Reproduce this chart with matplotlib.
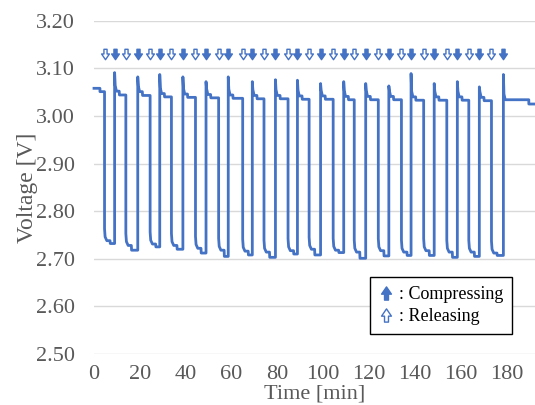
import numpy as np
import matplotlib
matplotlib.use("Agg")
import matplotlib.pyplot as plt
from matplotlib.path import Path
from matplotlib.lines import Line2D

plt.rcParams['font.family'] = ['Liberation Serif', 'DejaVu Serif']

# ---- data ----
start_t = [0.0, 2.6]            # initial plateau, step time
start_v = [3.058, 3.051]
drop_t = [4.6, 13.9, 24.5, 33.8, 44.3, 54.4, 64.9, 74.2, 84.7,
          93.9, 104.4, 113.6, 124.1, 134.2, 143.9, 154.0, 163.6, 173.5]
rise_t = [9.0, 19.1, 28.7, 38.8, 48.9, 58.6, 69.1, 79.2, 88.8,
          98.9, 109.0, 118.6, 128.7, 138.4, 148.5, 158.6, 168.2, 178.7]
spike_v = [3.091, 3.082, 3.087, 3.082, 3.072, 3.082, 3.072, 3.076, 3.075,
           3.068, 3.072, 3.068, 3.063, 3.089, 3.068, 3.072, 3.061, 3.087]
hi1_v = [3.052, 3.051, 3.047, 3.046, 3.045, 3.044, 3.043, 3.043, 3.042,
         3.042, 3.041, 3.041, 3.041, 3.040, 3.040, 3.040, 3.039, 3.034]
hi2_v = [3.044, 3.043, 3.040, 3.039, 3.038, 3.037, 3.036, 3.036, 3.035,
         3.035, 3.034, 3.034, 3.034, 3.033, 3.033, 3.033, 3.032, 3.025]
lo1_v = [2.738, 2.728, 2.731, 2.728, 2.722, 2.718, 2.716, 2.714, 2.717,
         2.720, 2.718, 2.714, 2.717, 2.714, 2.717, 2.714, 2.714, 2.712]
lo2_v = [2.732, 2.718, 2.725, 2.720, 2.712, 2.705, 2.708, 2.703, 2.710,
         2.708, 2.713, 2.701, 2.706, 2.707, 2.707, 2.703, 2.705, 2.707]
end_t = [189.8, 193.5]
x_ticks = [0, 20, 40, 60, 80, 100, 120, 140, 160, 180]
y_ticks = [2.50, 2.60, 2.70, 2.80, 2.90, 3.00, 3.10, 3.20]
arrow_v = 3.130

# ---- build the trace from the read values ----
t = [start_t[0], start_t[1], start_t[1]]
v = [start_v[0], start_v[0], start_v[1]]
prev_hi = start_v[1]
n = len(drop_t)
for k in range(n):
    d, r = drop_t[k], rise_t[k]
    # low phase
    t += [d, d, d + 0.25, d + 1.0, d + 2.4, d + 2.5, r]
    v += [prev_hi, lo1_v[k] + 0.025, lo1_v[k] + 0.008, lo1_v[k], lo1_v[k], lo2_v[k], lo2_v[k]]
    # high phase
    last = (k + 1 == n)
    nxt = end_t[0] if last else drop_t[k + 1]
    h2 = hi1_v[k] if last else hi2_v[k]
    t += [r, r + 0.25, r + 0.8, r + 2.0, r + 2.1, nxt]
    v += [spike_v[k], hi1_v[k] + 0.012, hi1_v[k], hi1_v[k], h2, h2]
    prev_hi = hi2_v[k]
t += [end_t[0], end_t[1]]
v += [hi2_v[-1], hi2_v[-1]]

# ---- figure ----
blue = '#4472C4'
gray = '#595959'
fig = plt.figure(figsize=(5.35, 4.05), dpi=100)
ax = fig.add_axes([94 / 535, 51 / 405, 1 - 94 / 535, 333.3 / 405])
ax.set_xlim(0, 192.5)
ax.set_ylim(2.50, 3.20)
ax.set_yticks(y_ticks)
ax.set_yticklabels([f"{y:.2f}" for y in y_ticks])
ax.set_xticks(x_ticks)
ax.grid(axis='y', color='#D9D9D9', linewidth=1.0)
ax.set_axisbelow(True)
for s in ax.spines.values():
    s.set_visible(False)
ax.tick_params(length=0, labelsize=16, labelcolor=gray)
ax.tick_params(axis='y', pad=14)
ax.tick_params(axis='x', pad=8)
ax.set_xlabel('Time [min]', fontsize=16, color=gray, labelpad=0)
ax.set_ylabel('Voltage [V]', fontsize=17, color=gray, labelpad=-2)

ax.plot(t, v, color=blue, linewidth=2.0, solid_joinstyle='round', clip_on=False)

# block arrow markers
down_arrow = Path([(-0.3, 1), (0.3, 1), (0.3, 0.1), (0.75, 0.1), (0, -1),
                   (-0.75, 0.1), (-0.3, 0.1), (-0.3, 1)],
                  [Path.MOVETO] + [Path.LINETO] * 6 + [Path.CLOSEPOLY])
up_arrow = Path([(x, -y) for x, y in down_arrow.vertices], down_arrow.codes)

ax.plot(drop_t, [arrow_v] * len(drop_t), ls='none', marker=down_arrow, ms=7.5,
        mfc='white', mec=blue, mew=1.0)
ax.plot(rise_t, [arrow_v] * len(rise_t), ls='none', marker=down_arrow, ms=7.5,
        mfc=blue, mec=blue, mew=1.0)

handles = [Line2D([], [], ls='none', marker=up_arrow, ms=9.5, mfc=blue, mec=blue, mew=1.0),
           Line2D([], [], ls='none', marker=up_arrow, ms=9.5, mfc='white', mec=blue, mew=1.0)]
leg = fig.legend(handles, [': Compressing', ': Releasing'], loc='upper left',
                 bbox_to_anchor=(370 / 535, 1 - 277 / 405), fontsize=13,
                 frameon=True, fancybox=False, edgecolor='black', framealpha=1,
                 handlelength=0.8, handletextpad=0.3, borderpad=0.5,
                 labelspacing=0.3, borderaxespad=0)
leg.get_frame().set_linewidth(1.0)

fig.savefig('out.png', dpi=100)
